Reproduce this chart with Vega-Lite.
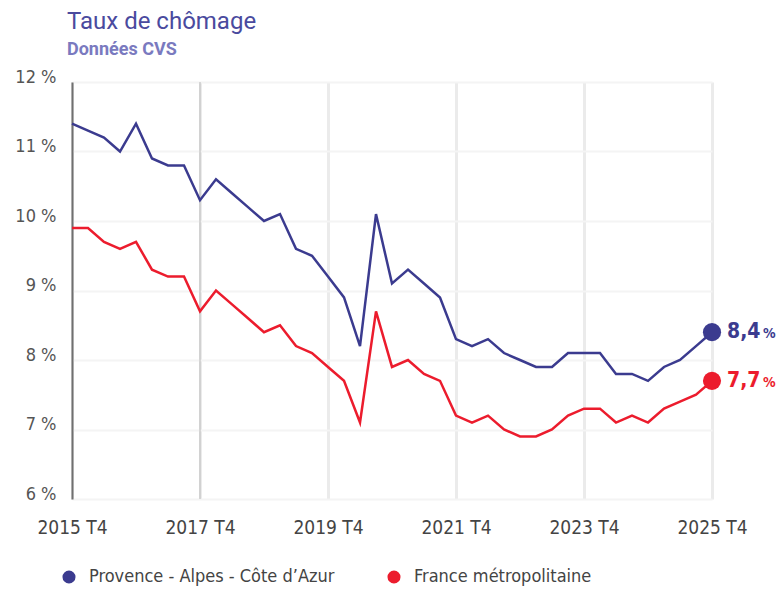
{
  "$schema": "https://vega.github.io/schema/vega-lite/v6.json",
  "width": 640,
  "height": 417,
  "autosize": {"type": "none"},
  "padding": {"left": 72, "top": 82, "right": 70, "bottom": 90},
  "background": "white",
  "title": {
    "text": "Taux de chômage",
    "subtitle": "Données CVS",
    "anchor": "start",
    "frame": "group",
    "dx": -5,
    "offset": 9,
    "font": "Roboto",
    "fontSize": 24,
    "fontWeight": "normal",
    "color": "#4a4a9e",
    "subtitleFont": "Roboto",
    "subtitleFontSize": 18,
    "subtitleFontWeight": "bold",
    "subtitleColor": "#7a7abf",
    "subtitlePadding": 7
  },
  "config": {
    "view": {"stroke": null},
    "axis": {"labelFont": "DejaVu Sans Condensed, sans-serif"},
    "legend": {"labelFont": "DejaVu Sans Condensed, sans-serif"}
  },
  "data": {
    "values": [
      {"q": "2015 T4", "s": "Provence - Alpes - Côte d’Azur", "v": 11.4},
      {"q": "2016 T1", "s": "Provence - Alpes - Côte d’Azur", "v": 11.3},
      {"q": "2016 T2", "s": "Provence - Alpes - Côte d’Azur", "v": 11.2},
      {"q": "2016 T3", "s": "Provence - Alpes - Côte d’Azur", "v": 11.0},
      {"q": "2016 T4", "s": "Provence - Alpes - Côte d’Azur", "v": 11.4},
      {"q": "2017 T1", "s": "Provence - Alpes - Côte d’Azur", "v": 10.9},
      {"q": "2017 T2", "s": "Provence - Alpes - Côte d’Azur", "v": 10.8},
      {"q": "2017 T3", "s": "Provence - Alpes - Côte d’Azur", "v": 10.8},
      {"q": "2017 T4", "s": "Provence - Alpes - Côte d’Azur", "v": 10.3},
      {"q": "2018 T1", "s": "Provence - Alpes - Côte d’Azur", "v": 10.6},
      {"q": "2018 T2", "s": "Provence - Alpes - Côte d’Azur", "v": 10.4},
      {"q": "2018 T3", "s": "Provence - Alpes - Côte d’Azur", "v": 10.2},
      {"q": "2018 T4", "s": "Provence - Alpes - Côte d’Azur", "v": 10.0},
      {"q": "2019 T1", "s": "Provence - Alpes - Côte d’Azur", "v": 10.1},
      {"q": "2019 T2", "s": "Provence - Alpes - Côte d’Azur", "v": 9.6},
      {"q": "2019 T3", "s": "Provence - Alpes - Côte d’Azur", "v": 9.5},
      {"q": "2019 T4", "s": "Provence - Alpes - Côte d’Azur", "v": 9.2},
      {"q": "2020 T1", "s": "Provence - Alpes - Côte d’Azur", "v": 8.9},
      {"q": "2020 T2", "s": "Provence - Alpes - Côte d’Azur", "v": 8.2},
      {"q": "2020 T3", "s": "Provence - Alpes - Côte d’Azur", "v": 10.1},
      {"q": "2020 T4", "s": "Provence - Alpes - Côte d’Azur", "v": 9.1},
      {"q": "2021 T1", "s": "Provence - Alpes - Côte d’Azur", "v": 9.3},
      {"q": "2021 T2", "s": "Provence - Alpes - Côte d’Azur", "v": 9.1},
      {"q": "2021 T3", "s": "Provence - Alpes - Côte d’Azur", "v": 8.9},
      {"q": "2021 T4", "s": "Provence - Alpes - Côte d’Azur", "v": 8.3},
      {"q": "2022 T1", "s": "Provence - Alpes - Côte d’Azur", "v": 8.2},
      {"q": "2022 T2", "s": "Provence - Alpes - Côte d’Azur", "v": 8.3},
      {"q": "2022 T3", "s": "Provence - Alpes - Côte d’Azur", "v": 8.1},
      {"q": "2022 T4", "s": "Provence - Alpes - Côte d’Azur", "v": 8.0},
      {"q": "2023 T1", "s": "Provence - Alpes - Côte d’Azur", "v": 7.9},
      {"q": "2023 T2", "s": "Provence - Alpes - Côte d’Azur", "v": 7.9},
      {"q": "2023 T3", "s": "Provence - Alpes - Côte d’Azur", "v": 8.1},
      {"q": "2023 T4", "s": "Provence - Alpes - Côte d’Azur", "v": 8.1},
      {"q": "2024 T1", "s": "Provence - Alpes - Côte d’Azur", "v": 8.1},
      {"q": "2024 T2", "s": "Provence - Alpes - Côte d’Azur", "v": 7.8},
      {"q": "2024 T3", "s": "Provence - Alpes - Côte d’Azur", "v": 7.8},
      {"q": "2024 T4", "s": "Provence - Alpes - Côte d’Azur", "v": 7.7},
      {"q": "2025 T1", "s": "Provence - Alpes - Côte d’Azur", "v": 7.9},
      {"q": "2025 T2", "s": "Provence - Alpes - Côte d’Azur", "v": 8.0},
      {"q": "2025 T3", "s": "Provence - Alpes - Côte d’Azur", "v": 8.2},
      {"q": "2025 T4", "s": "Provence - Alpes - Côte d’Azur", "v": 8.4},
      {"q": "2015 T4", "s": "France métropolitaine", "v": 9.9},
      {"q": "2016 T1", "s": "France métropolitaine", "v": 9.9},
      {"q": "2016 T2", "s": "France métropolitaine", "v": 9.7},
      {"q": "2016 T3", "s": "France métropolitaine", "v": 9.6},
      {"q": "2016 T4", "s": "France métropolitaine", "v": 9.7},
      {"q": "2017 T1", "s": "France métropolitaine", "v": 9.3},
      {"q": "2017 T2", "s": "France métropolitaine", "v": 9.2},
      {"q": "2017 T3", "s": "France métropolitaine", "v": 9.2},
      {"q": "2017 T4", "s": "France métropolitaine", "v": 8.7},
      {"q": "2018 T1", "s": "France métropolitaine", "v": 9.0},
      {"q": "2018 T2", "s": "France métropolitaine", "v": 8.8},
      {"q": "2018 T3", "s": "France métropolitaine", "v": 8.6},
      {"q": "2018 T4", "s": "France métropolitaine", "v": 8.4},
      {"q": "2019 T1", "s": "France métropolitaine", "v": 8.5},
      {"q": "2019 T2", "s": "France métropolitaine", "v": 8.2},
      {"q": "2019 T3", "s": "France métropolitaine", "v": 8.1},
      {"q": "2019 T4", "s": "France métropolitaine", "v": 7.9},
      {"q": "2020 T1", "s": "France métropolitaine", "v": 7.7},
      {"q": "2020 T2", "s": "France métropolitaine", "v": 7.1},
      {"q": "2020 T3", "s": "France métropolitaine", "v": 8.7},
      {"q": "2020 T4", "s": "France métropolitaine", "v": 7.9},
      {"q": "2021 T1", "s": "France métropolitaine", "v": 8.0},
      {"q": "2021 T2", "s": "France métropolitaine", "v": 7.8},
      {"q": "2021 T3", "s": "France métropolitaine", "v": 7.7},
      {"q": "2021 T4", "s": "France métropolitaine", "v": 7.2},
      {"q": "2022 T1", "s": "France métropolitaine", "v": 7.1},
      {"q": "2022 T2", "s": "France métropolitaine", "v": 7.2},
      {"q": "2022 T3", "s": "France métropolitaine", "v": 7.0},
      {"q": "2022 T4", "s": "France métropolitaine", "v": 6.9},
      {"q": "2023 T1", "s": "France métropolitaine", "v": 6.9},
      {"q": "2023 T2", "s": "France métropolitaine", "v": 7.0},
      {"q": "2023 T3", "s": "France métropolitaine", "v": 7.2},
      {"q": "2023 T4", "s": "France métropolitaine", "v": 7.3},
      {"q": "2024 T1", "s": "France métropolitaine", "v": 7.3},
      {"q": "2024 T2", "s": "France métropolitaine", "v": 7.1},
      {"q": "2024 T3", "s": "France métropolitaine", "v": 7.2},
      {"q": "2024 T4", "s": "France métropolitaine", "v": 7.1},
      {"q": "2025 T1", "s": "France métropolitaine", "v": 7.3},
      {"q": "2025 T2", "s": "France métropolitaine", "v": 7.4},
      {"q": "2025 T3", "s": "France métropolitaine", "v": 7.5},
      {"q": "2025 T4", "s": "France métropolitaine", "v": 7.7}
    ]
  },
  "encoding": {
    "x": {
      "field": "q",
      "type": "ordinal",
      "sort": null,
      "scale": {
        "type": "point",
        "padding": 0,
        "domain": ["2015 T4", "2016 T1", "2016 T2", "2016 T3", "2016 T4", "2017 T1", "2017 T2", "2017 T3", "2017 T4", "2018 T1", "2018 T2", "2018 T3", "2018 T4", "2019 T1", "2019 T2", "2019 T3", "2019 T4", "2020 T1", "2020 T2", "2020 T3", "2020 T4", "2021 T1", "2021 T2", "2021 T3", "2021 T4", "2022 T1", "2022 T2", "2022 T3", "2022 T4", "2023 T1", "2023 T2", "2023 T3", "2023 T4", "2024 T1", "2024 T2", "2024 T3", "2024 T4", "2025 T1", "2025 T2", "2025 T3", "2025 T4"]
      },
      "axis": {
        "title": null,
        "values": ["2015 T4", "2017 T4", "2019 T4", "2021 T4", "2023 T4", "2025 T4"],
        "labelAngle": 0,
        "labelPadding": 19,
        "labelFontSize": 19,
        "labelColor": "#444444",
        "domain": false,
        "ticks": false,
        "grid": true,
        "gridColor": "#ebebeb",
        "gridWidth": 3
      }
    },
    "y": {
      "field": "v",
      "type": "quantitative",
      "scale": {"domain": [6, 12], "nice": false, "zero": false},
      "axis": {
        "title": null,
        "values": [6, 7, 8, 9, 10, 11, 12],
        "labelExpr": "datum.value + ' %'",
        "labelPadding": 16,
        "labelOffset": -5,
        "labelFontSize": 18,
        "labelColor": "#555555",
        "domain": true,
        "domainColor": "#707070",
        "domainWidth": 2,
        "ticks": false,
        "grid": true,
        "gridColor": "#f4f4f4",
        "gridWidth": 2
      }
    }
  },
  "layer": [
    {
      "transform": [{"filter": "datum.q == '2017 T4' && datum.s == 'France métropolitaine'"}],
      "mark": {"type": "rule", "color": "#b8b8b8", "strokeWidth": 1},
      "encoding": {"y": {"value": 0}, "y2": {"value": 417}}
    },
    {
      "mark": {"type": "line", "strokeWidth": 2.5},
      "encoding": {
        "color": {
          "field": "s",
          "type": "nominal",
          "scale": {
            "domain": ["Provence - Alpes - Côte d’Azur", "France métropolitaine"],
            "range": ["#3b3b8f", "#ec1c2d"]
          },
          "legend": {
            "orient": "none",
            "legendX": -12,
            "legendY": 486,
            "direction": "horizontal",
            "title": null,
            "symbolType": "circle",
            "symbolSize": 170,
            "symbolStrokeWidth": 0,
            "labelFontSize": 18,
            "labelLimit": 400,
            "labelColor": "#444444",
            "labelOffset": 11,
            "columnPadding": 50
          }
        }
      }
    },
    {
      "transform": [{"filter": "datum.q == '2025 T4'"}],
      "mark": {"type": "circle", "size": 330, "opacity": 1},
      "encoding": {"color": {"field": "s", "type": "nominal"}}
    },
    {
      "transform": [
        {"filter": "datum.q == '2025 T4'"},
        {"calculate": "replace(format(datum.v, '.1f'), '.', ',')", "as": "lbl"}
      ],
      "mark": {"type": "text", "align": "left", "baseline": "middle", "dx": 15, "fontSize": 21, "fontWeight": "bold", "font": "DejaVu Sans Condensed, sans-serif"},
      "encoding": {"text": {"field": "lbl"}, "color": {"field": "s", "type": "nominal"}}
    },
    {
      "transform": [{"filter": "datum.q == '2025 T4'"}],
      "mark": {"type": "text", "align": "left", "baseline": "middle", "dx": 51, "dy": 2, "fontSize": 14, "fontWeight": "bold", "font": "DejaVu Sans Condensed, sans-serif", "text": "%"},
      "encoding": {"color": {"field": "s", "type": "nominal"}}
    }
  ]
}
